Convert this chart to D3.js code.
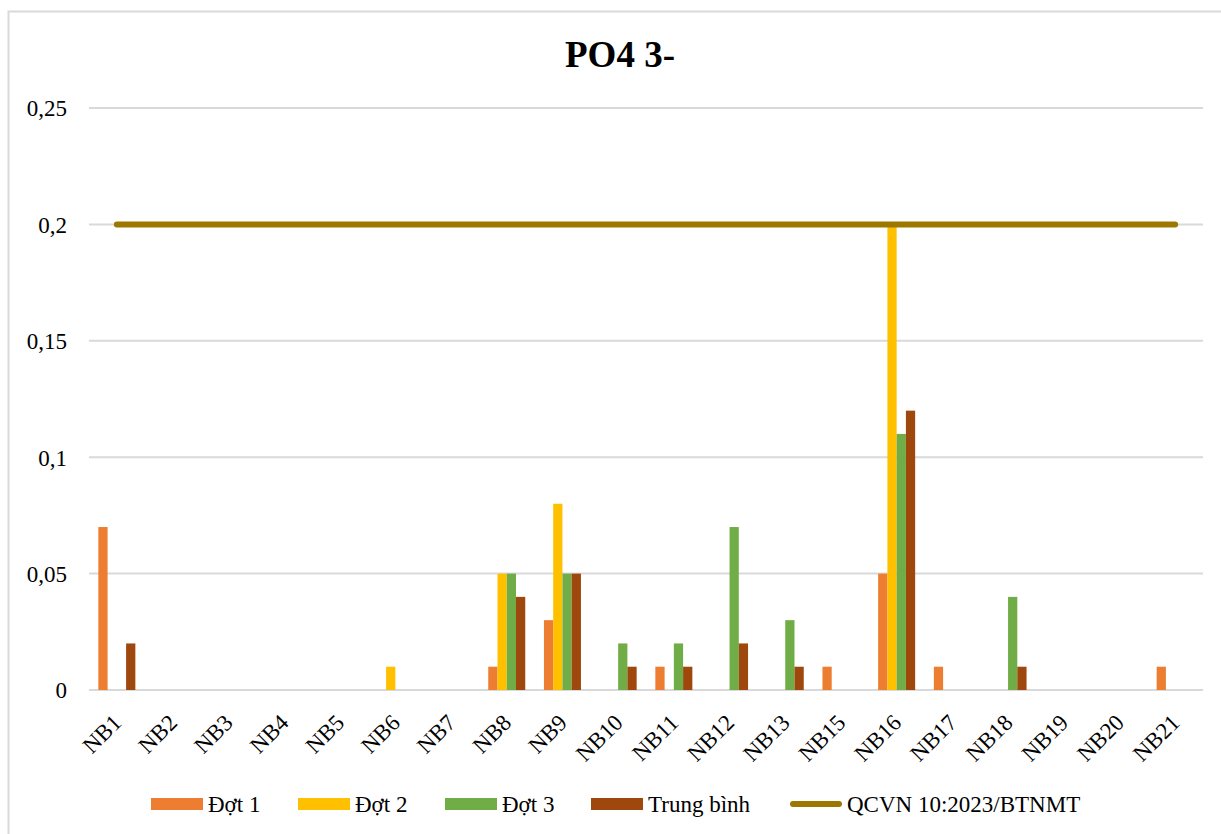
<!DOCTYPE html>
<html>
<head>
<meta charset="utf-8">
<script src="https://cdn.jsdelivr.net/npm/d3@7"></script>
<style>
  html, body { margin: 0; padding: 0; background: #fff; }
</style>
</head>
<body>
<svg id="chart" width="1221" height="834" font-family="Liberation Serif"></svg>
<script>
// Sampling sites (NB14 was not sampled)
const categories = ["NB1","NB2","NB3","NB4","NB5","NB6","NB7","NB8","NB9","NB10",
                    "NB11","NB12","NB13","NB15","NB16","NB17","NB18","NB19","NB20","NB21"];

// PO4 3- concentrations (mg/L) per sampling round
const dot1      = [0.07,0,0,0,0,0,0,0.01,0.03,0,0.01,0,0,0.01,0.05,0.01,0,0,0,0.01];
const dot2      = [0,0,0,0,0,0.01,0,0.05,0.08,0,0,0,0,0,0.2,0,0,0,0,0];
const dot3      = [0,0,0,0,0,0,0,0.05,0.05,0.02,0.02,0.07,0.03,0,0.11,0,0.04,0,0,0];
const trungBinh = [0.02,0,0,0,0,0,0,0.04,0.05,0.01,0.01,0.02,0.01,0,0.12,0,0.01,0,0,0];

// Regulatory limit QCVN 10:2023/BTNMT
const qcvnLimit = 0.2;

const yTicks = [0, 0.05, 0.1, 0.15, 0.2, 0.25];
const yTickLabels = ["0", "0,05", "0,1", "0,15", "0,2", "0,25"];

const seriesNames = ["Đợt 1", "Đợt 2", "Đợt 3", "Trung bình"];
const seriesValues = [dot1, dot2, dot3, trungBinh];
const seriesColors = ["#ED7D31", "#FFC000", "#70AD47", "#9E480E"];
const limitName = "QCVN 10:2023/BTNMT";
const limitColor = "#9C7800";

const FONT = "Liberation Serif";

const svg = d3.select("#chart");

// outer chart frame
svg.append("rect")
  .attr("x", 8.5).attr("y", 11.5)
  .attr("width", 1240).attr("height", 840)
  .attr("fill", "#fff").attr("stroke", "#d9d9d9").attr("stroke-width", 2);

const plot = { left: 89, right: 1203, top: 108, bottom: 690 };

const x = d3.scaleBand().domain(categories).range([plot.left, plot.right]);
const y = d3.scaleLinear().domain([0, 0.25]).range([plot.bottom, plot.top]);

// title
svg.append("text")
  .attr("x", 620).attr("y", 67)
  .attr("text-anchor", "middle")
  .attr("font-family", FONT)
  .attr("font-size", 37).attr("font-weight", "bold")
  .attr("fill", "#000")
  .text("PO4 3-");

// horizontal gridlines
svg.append("g")
  .selectAll("line")
  .data(yTicks)
  .join("line")
  .attr("x1", plot.left).attr("x2", plot.right)
  .attr("y1", d => y(d)).attr("y2", d => y(d))
  .attr("stroke", "#d9d9d9").attr("stroke-width", 2);

// y axis labels
const yAxis = d3.axisLeft(y)
  .tickValues(yTicks)
  .tickFormat((d, i) => yTickLabels[i])
  .tickSize(0).tickPadding(22);
const gy = svg.append("g")
  .attr("transform", `translate(${plot.left},0)`)
  .call(yAxis)
  .attr("font-family", FONT);
gy.select(".domain").remove();
gy.selectAll("text")
  .attr("font-family", FONT)
  .attr("font-size", 23).attr("fill", "#000")
  .attr("dy", "0.34em");

// grouped bars
const groupWidth = 37;
const inner = d3.scaleBand()
  .domain(d3.range(seriesNames.length))
  .range([0, groupWidth]);
const groupOffset = (x.bandwidth() - groupWidth) / 2;

seriesValues.forEach((vals, si) => {
  svg.append("g")
    .selectAll("rect")
    .data(vals.map((v, i) => ({ cat: categories[i], v })))
    .join("rect")
    .attr("x", d => x(d.cat) + groupOffset + inner(si))
    .attr("width", inner.bandwidth())
    .attr("y", d => y(d.v))
    .attr("height", d => y(0) - y(d.v))
    .attr("fill", seriesColors[si]);
});

// limit line through category centres
const lineGen = d3.line()
  .x(d => x(d) + x.bandwidth() / 2)
  .y(() => y(qcvnLimit));
svg.append("path")
  .datum(categories)
  .attr("d", lineGen)
  .attr("fill", "none")
  .attr("stroke", limitColor)
  .attr("stroke-width", 6)
  .attr("stroke-linecap", "round");

// x axis labels, rotated
const xAxis = d3.axisBottom(x).tickSize(0).tickPadding(0);
const gx = svg.append("g")
  .attr("transform", `translate(0,${plot.bottom})`)
  .call(xAxis)
  .attr("font-family", FONT);
gx.select(".domain").remove();
gx.selectAll("text")
  .attr("font-family", FONT)
  .attr("font-size", 23).attr("fill", "#000")
  .attr("text-anchor", "end")
  .attr("y", 0)
  .attr("dy", "0")
  .attr("transform", "translate(6,34) rotate(-45)");

// legend
const legendY = 804;
const legendItems = [
  { name: seriesNames[0], color: seriesColors[0], x: 151, type: "rect" },
  { name: seriesNames[1], color: seriesColors[1], x: 298, type: "rect" },
  { name: seriesNames[2], color: seriesColors[2], x: 445, type: "rect" },
  { name: seriesNames[3], color: seriesColors[3], x: 591, type: "rect" },
  { name: limitName, color: limitColor, x: 790, type: "line" }
];
const lg = svg.append("g");
legendItems.forEach(it => {
  if (it.type === "rect") {
    lg.append("rect")
      .attr("x", it.x).attr("y", legendY - 6)
      .attr("width", 52).attr("height", 12)
      .attr("fill", it.color);
  } else {
    lg.append("line")
      .attr("x1", it.x + 3).attr("x2", it.x + 49)
      .attr("y1", legendY).attr("y2", legendY)
      .attr("stroke", it.color).attr("stroke-width", 6)
      .attr("stroke-linecap", "round");
  }
  lg.append("text")
    .attr("x", it.x + 57)
    .attr("y", legendY + 8)
    .attr("font-family", FONT)
    .attr("font-size", 23).attr("fill", "#000")
    .text(it.name);
});
</script>
</body>
</html>
